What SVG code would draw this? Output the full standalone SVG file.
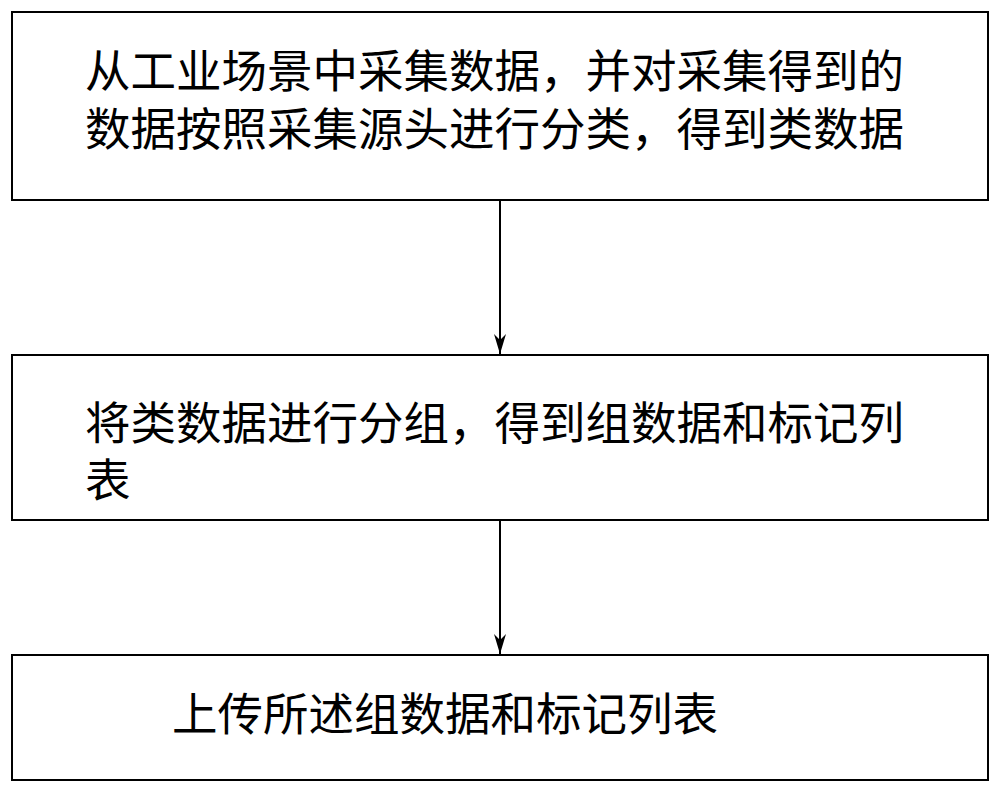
<svg xmlns="http://www.w3.org/2000/svg" width="1000" height="793" viewBox="0 0 1000 793">
<style>
.box{fill:#fff;stroke:#000;stroke-width:2}
.t{font-family:"Noto Sans CJK SC",sans-serif;font-size:45.5px;fill:#000}
.c{stroke:#000;stroke-width:2;fill:none}
</style>
<defs><marker id="a" markerWidth="20" markerHeight="12" refX="20" refY="6" orient="auto" markerUnits="userSpaceOnUse" viewBox="0 0 20 12"><path d="M0,0 L20,6 L0,12 L6,6 Z" fill="#000"/></marker></defs>
<rect width="1000" height="793" fill="#fff"/>
<g id="n1"><rect class="box" x="12" y="12" width="976" height="188"/>
<text class="t" x="85" y="88">从工业场景中采集数据，并对采集得到的</text>
<text class="t" x="85" y="146">数据按照采集源头进行分类，得到类数据</text></g>
<g id="n2"><rect class="box" x="12" y="355" width="976" height="165"/>
<text class="t" x="85" y="440">将类数据进行分组，得到组数据和标记列</text>
<text class="t" x="85" y="497">表</text></g>
<g id="n3"><rect class="box" x="12" y="655" width="976" height="125"/>
<text class="t" x="172" y="731">上传所述组数据和标记列表</text></g>
<g id="connectors">
<line class="c" x1="500" y1="200" x2="500" y2="354" marker-end="url(#a)"/>
<line class="c" x1="500" y1="520" x2="500" y2="654" marker-end="url(#a)"/>
</g>
</svg>
